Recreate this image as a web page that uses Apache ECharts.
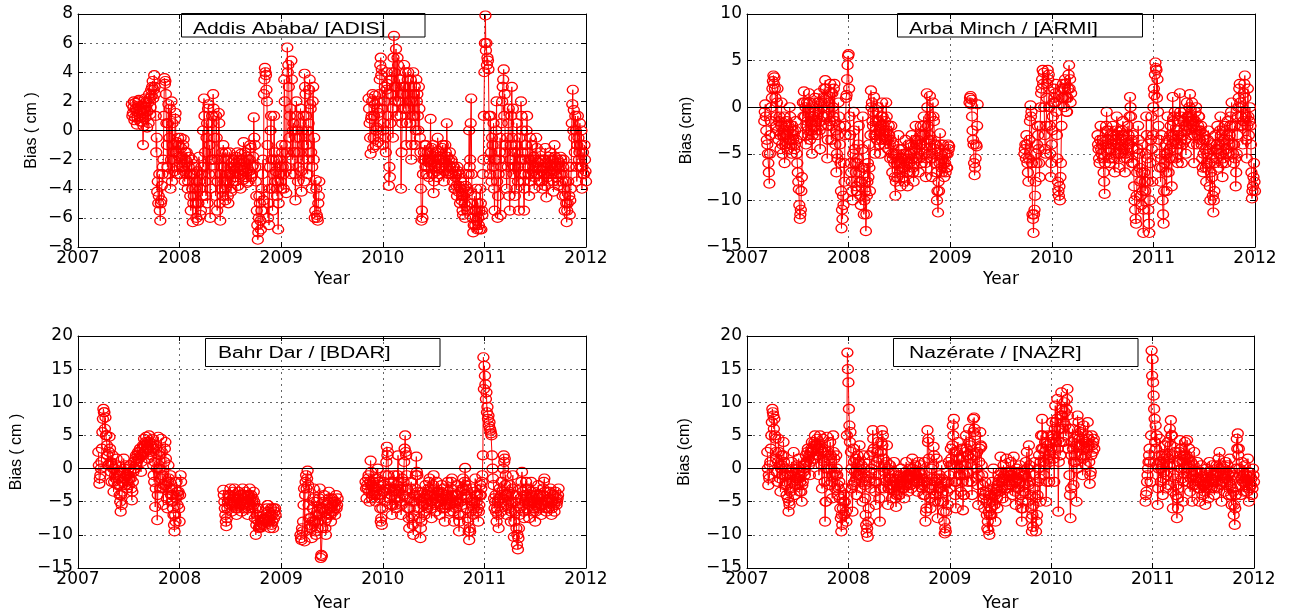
<!DOCTYPE html>
<html><head><meta charset="utf-8">
<script src="https://cdn.jsdelivr.net/npm/echarts/dist/echarts.min.js"></script>
<style>html,body{margin:0;padding:0;background:#fff}#c{width:1298px;height:611px}</style>
</head><body><div id="c"></div>
<script>
// Each segment is sampled every STEP years; the "...b" arrays hold the samples
// taken half a step later (start + STEP/2 + i*STEP).
const STEP = 0.01;
const xTicks = [2007, 2008, 2009, 2010, 2011, 2012];

// ---- Addis Ababa [ADIS] ----
const adisStarts = [2007.53, 2009.86];
const adisBias1 = [
 1.8,1.2,2.0,0.9,1.5,0.4,1.7,2.1,1.0,1.3, 0.6,-1.0,1.4,2.2,1.6,0.2,1.9,2.5,1.1,2.8,
 3.0,2.2,3.8,2.5,-1.5,-4.2,-5.0,-3.0,-6.2,-4.8, -3.0,-2.0,3.6,3.4,0.5,-2.5,1.8,-0.5,-4.0,2.0,
 0.5,-1.5,-2.8,1.2,-0.8,-3.0,-1.0,-2.2,-0.5,-1.8, -2.5,-0.6,-3.5,-2.0,-1.5,-4.0,-2.5,-3.0,-5.5,-2.0,
 -6.3,-4.5,-2.5,-5.0,-3.5,-6.2,-1.8,-4.0,-5.5,-3.0, 0.0,2.2,-1.5,-4.5,0.5,1.5,-3.0,-6.0,-2.0,1.0,
 2.5,-0.5,-3.0,1.0,-5.5,-2.0,0.5,-6.2,-4.0,-1.5, -1.0,-3.5,-4.8,-2.0,-3.0,-5.0,-1.5,-2.5,-4.0,-3.0,
 -2.0,-2.8,-3.5,-2.2,-1.5,-3.0,-2.5,-4.0,-2.0,-2.8, -0.8,-2.5,-3.2,-1.8,-2.6,-3.5,-2.0,-1.2,-3.0,-2.4,
 0.9,-1.0,-3.5,-5.5,-7.5,-6.0,-5.0,-6.8,-4.0,-2.0, 2.5,4.3,3.8,2.0,-6.0,-6.5,-2.5,1.0,-4.0,-3.0,
 1.0,-3.5,-2.0,-4.5,-6.8,-3.0,-2.5,-4.0,-1.5,-3.0, 3.5,-1.0,-4.3,5.7,4.5,-0.5,1.5,4.8,-2.0,0.5,
 -1.5,-4.8,2.0,0.0,-2.5,-0.5,1.5,-4.2,-2.0,1.0, 3.9,2.5,-1.0,-3.0,0.5,3.5,1.5,-4.0,2.0,-2.0,
 -6.0,-3.4,-5.8,-6.2,-4.5];
const adisBias1b = [
 1.0,1.6,0.7,1.9,1.3,0.9,2.0,1.4,0.6,1.7, 1.2,0.3,1.8,0.9,2.0,1.3,0.5,2.2,1.6,2.4,
 3.4,2.8,3.0,1.0,-0.5,-3.5,-4.5,-5.5,-5.0,-3.8, -2.5,1.0,3.2,2.5,-1.0,0.5,-3.0,1.5,-2.0,-3.5,
 -1.0,-2.0,0.8,-1.5,-2.5,-0.5,-1.8,-3.0,-1.2,-2.5, -1.0,-2.8,-1.5,-3.0,-2.2,-3.5,-1.8,-4.5,-3.0,-4.0,
 -5.0,-3.0,-4.0,-6.0,-2.8,-5.0,-3.5,-5.8,-2.5,-4.5, -2.5,1.0,-3.5,-0.5,-5.0,1.8,-1.0,-4.0,0.5,-2.0,
 1.5,-2.0,-4.5,-0.5,-3.5,1.2,-5.0,-3.0,-2.5,-4.5, -2.5,-4.0,-1.5,-3.5,-4.5,-2.0,-3.0,-4.2,-2.2,-3.5,
 -2.5,-3.2,-1.8,-2.6,-3.8,-2.0,-3.0,-1.6,-2.7,-3.4, -2.2,-1.5,-2.9,-3.6,-2.0,-2.8,-1.0,-3.2,-2.5,-1.8,
 -0.5,-2.5,-4.5,-6.5,-7.0,-4.5,-6.2,-5.5,-3.0,-4.8, 3.5,4.0,2.8,-1.0,-5.0,-4.0,0.0,-2.0,-5.5,-2.0,
 -1.5,-2.8,-4.0,-3.5,-5.0,-2.0,-3.5,-1.0,-2.5,-4.0, 2.0,-2.5,-1.5,4.0,3.0,1.0,-3.0,3.5,0.0,-1.5,
 -3.0,-0.5,1.0,-3.5,-1.5,0.5,-2.8,0.0,-1.0,-3.5, 3.0,1.0,0.0,-2.0,2.8,1.8,-1.5,-2.5,3.0,-0.5,
 -5.5,-4.0,-6.0,-5.0,-3.5];
const adisBias2 = [
 2.2,0.5,-1.6,1.0,2.5,-0.5,1.8,-1.0,0.2,2.0, 1.2,3.5,5.0,4.2,-1.0,0.5,3.0,-1.5,4.0,2.5,
 -3.8,-3.2,2.5,4.0,-0.5,6.5,3.0,5.6,1.0,4.5, 2.0,3.5,-4.0,0.5,3.0,4.5,1.5,-1.0,2.5,4.0,
 3.0,0.5,-2.0,2.0,4.0,1.0,-1.0,3.5,2.5,0.0, 1.5,-1.5,-6.2,-6.0,-2.0,-1.0,-2.5,-3.0,-1.5,-2.2,
 -2.0,0.8,-1.2,-3.0,-4.3,-2.5,-1.5,-2.8,-0.5,-2.0, -3.0,-1.8,-2.5,-1.0,-3.5,-2.2,-1.5,0.5,-2.8,-2.0,
 -1.5,-3.0,-2.2,-3.5,-2.5,-4.0,-3.0,-4.5,-2.8,-3.8, -5.0,-3.5,-4.5,-5.8,-4.0,-6.0,-3.0,-5.5,-4.2,0.0,
 -2.0,2.2,-5.0,-7.0,-5.5,-6.5,-4.0,-6.8,-6.0,-5.5, -4.0,-6.8,-5.8,-2.0,4.0,7.9,6.0,5.0,4.2,-2.0,
 1.0,-3.5,-1.0,0.5,-5.5,-2.0,2.0,-6.0,-3.0,-1.5, -5.8,0.5,3.0,4.2,2.5,-1.0,-4.0,-2.5,1.5,-5.5,
 -1.0,3.0,1.5,-2.5,-4.5,-1.0,0.5,-3.5,-5.5,-2.0, 2.0,0.0,-2.0,-5.5,-3.0,-1.0,1.0,-2.5,-4.5,-0.5,
 -3.0,-1.0,-2.5,-4.0,-2.0,-0.5,-3.0,-2.2,-3.5,-1.5, -2.8,-4.0,-2.0,-3.0,-1.2,-4.6,-2.5,-3.5,-2.0,-1.5,
 -3.0,-2.0,-4.2,-1.0,-2.5,-3.2,-2.0,-3.8,-2.5,-1.8, -3.0,-4.5,-2.0,-5.5,-3.5,-6.3,-5.0,-2.5,-5.8,-4.0,
 0.5,2.8,1.4,-1.5,0.0,-3.5,1.0,-2.0,0.5,-1.0, -4.0,-1.5,-3.0,-2.0,-3.5];
const adisBias2b = [
 1.5,-0.5,0.8,2.0,-1.2,1.0,2.4,0.0,1.5,-0.8, 2.5,4.5,3.8,1.5,0.0,2.0,-0.5,2.8,3.2,1.0,
 -2.5,0.5,3.5,1.5,5.0,4.0,2.0,3.0,5.0,2.0, 3.5,1.0,-1.5,2.5,1.5,3.0,4.0,0.5,3.5,1.5,
 2.0,3.5,-1.0,1.0,2.5,3.0,0.0,2.0,1.0,3.0, -0.5,-4.0,-5.5,-3.0,-1.5,-2.0,-1.0,-2.5,-2.0,-3.2,
 -1.5,-2.2,-2.0,-1.0,-3.5,-1.8,-2.3,-3.2,-1.4,-2.6, -2.0,-2.5,-1.2,-2.0,-2.8,-1.0,-2.5,-1.8,-3.0,-2.4,
 -2.5,-2.0,-3.0,-2.5,-4.0,-3.2,-3.8,-2.5,-4.2,-3.0, -4.0,-4.8,-5.5,-4.5,-5.0,-3.8,-5.2,-4.0,-3.0,-2.5,
 0.5,-3.0,-6.0,-6.5,-4.5,-5.5,-6.2,-5.0,-6.5,-6.8, -5.0,-5.5,-3.0,1.0,6.0,5.5,4.5,4.8,1.0,-3.0,
 -1.5,-0.5,-2.5,-4.0,-2.0,0.0,-3.5,-4.5,-2.0,-0.5, -2.5,2.0,3.5,1.0,-1.5,-3.0,-0.5,0.5,-4.5,-2.0,
 1.0,-0.5,-3.0,-1.5,-2.5,-4.0,-1.5,-2.5,-0.5,-3.0, 1.0,-1.5,-3.5,-4.0,-2.0,0.0,-1.5,-3.0,-2.0,-3.5,
 -2.0,-2.8,-1.8,-3.2,-2.5,-1.2,-2.2,-3.0,-2.6,-2.0, -3.5,-2.5,-2.6,-3.8,-2.2,-3.0,-3.2,-1.8,-2.8,-2.4,
 -2.5,-3.5,-2.8,-1.8,-3.0,-2.4,-3.5,-2.2,-3.0,-2.0, -3.5,-2.5,-4.0,-4.5,-5.0,-5.5,-3.5,-4.5,-4.8,-2.5,
 1.8,0.0,-0.5,1.0,-2.5,-1.0,-0.5,-1.5,-2.5,0.0, -2.5,-3.0,-1.0,-2.8];

// ---- Arba Minch [ARMI] ----
const armiStarts = [2007.17, 2009.19, 2009.73, 2010.45];
const armiBias1 = [
 -1.5,0.3,-2.5,-4.0,-6.0,-8.2,-3.0,0.0,2.0,3.4, 3.2,1.0,-2.0,2.0,-3.5,-1.0,-4.5,0.5,-5.0,-2.5,
 -6.0,-3.0,-1.5,-4.5,-2.0,0.0,-3.5,-5.0,-2.5,-3.0, -4.0,-1.5,-5.0,-7.0,-8.8,-12.0,-11.0,-7.5,0.5,1.7,
 -1.0,-4.0,0.5,-2.5,1.5,-3.5,-1.0,-5.0,0.0,-2.0, 1.0,-1.5,-3.0,0.5,1.5,-4.5,-2.0,0.0,-1.0,2.0,
 2.9,1.0,-5.5,-2.0,0.5,2.5,-3.5,1.5,-1.0,2.5, -4.0,-7.0,-5.5,0.5,-2.0,-6.0,-13.0,-12.0,-10.5,-8.0,
 -3.0,1.3,4.5,5.7,-1.0,-6.0,-8.0,-10.0,-0.5,-4.5, -7.0,-9.0,-5.5,-2.0,-8.0,-10.5,-6.5,-1.0,-11.5,-8.0,
 -13.3,-9.5,-6.0,-4.0,-9.0,1.8,0.5,-2.0,1.1,-5.0, -1.5,-3.5,0.0,-2.5,-5.0,-1.0,0.5,-3.0,-4.0,-1.5,
 0.5,-2.5,-4.5,-3.0,-5.5,-2.0,-7.0,-4.0,-6.0,-9.5, -5.0,-7.5,-3.0,-6.0,-8.5,-4.5,-6.5,-5.0,-8.0,-3.5,
 -6.0,-8.5,-4.0,-7.0,-5.0,-3.0,-6.5,-8.0,-4.5,-2.0, -5.5,-3.5,-7.0,-4.0,-2.0,-6.0,-3.0,-1.0,-5.0,-7.5,
 1.5,-2.0,-5.0,1.2,-3.5,-7.5,0.5,-1.5,-6.0,-4.0, -10.0,-11.3,-9.0,-2.8,-5.0,-7.0,-4.0,-7.5,-6.0,-5.0,
 -6.5,-4.0,-4.2];
const armiBias1b = [
 -0.5,-1.0,-3.5,-5.0,-7.0,-5.0,-1.5,1.0,2.8,2.5, 2.0,-1.0,0.5,-2.5,-1.5,-3.0,-2.0,-4.0,-3.0,-1.0,
 -4.0,-2.0,-3.0,-2.5,-3.5,-1.0,-4.0,-2.0,-3.5,-4.5, -2.5,-3.5,-6.0,-8.0,-10.5,-11.5,-9.0,-3.0,-1.0,0.5,
 0.0,-2.0,-1.5,-3.0,0.5,-1.5,-2.5,-3.0,-1.0,0.5, -0.5,-2.5,-1.0,-0.5,-2.5,-1.5,0.5,-1.0,1.0,0.5,
 2.0,-1.0,-3.5,0.0,-1.5,1.5,-2.0,0.0,2.0,-1.5, -2.5,-5.0,-3.0,-1.0,-4.0,-9.0,-11.0,-9.5,-6.0,-2.0,
 1.0,3.0,5.5,2.0,-3.0,-7.0,-9.0,-5.0,-2.5,-6.0, -8.5,-6.0,-4.0,-7.0,-9.5,-8.0,-4.5,-6.5,-10.0,-9.0,
 -11.5,-8.0,-7.5,-6.5,-3.0,0.0,-1.5,-0.5,-3.0,-2.5, -3.0,-0.5,-1.5,-4.0,-2.0,-3.5,-1.0,-2.0,-2.5,-3.5,
 -1.0,-3.5,-2.0,-4.0,-3.5,-5.0,-5.5,-5.0,-7.5,-8.0, -6.0,-5.5,-4.5,-7.0,-6.0,-5.5,-7.5,-6.5,-5.5,-5.0,
 -7.0,-5.5,-6.0,-5.0,-4.0,-5.5,-7.0,-6.0,-3.5,-4.0, -4.0,-5.0,-5.5,-3.0,-4.0,-4.5,-2.0,-3.0,-6.0,-5.5,
 0.0,-3.5,-3.0,-1.0,-5.5,-5.0,-1.0,-4.0,-4.5,-7.0, -9.0,-8.0,-6.0,-4.0,-6.5,-5.5,-6.0,-5.0,-7.0,-6.5,
 -5.0,-4.5];
const armiBias2 = [0.5,1.2,0.8,-2.5,-4.0,-7.3,-5.5,-4.2,0.3];
const armiBias2b = [1.0,0.3,-1.0,-3.5,-6.0,-6.5,-4.0,-2.0];
const armiBias3 = [
 -5.0,-4.0,-3.0,-6.0,-8.0,-3.5,0.2,-0.5,-11.5,-13.5, -11.0,-8.0,-6.0,-2.0,-4.5,-7.5,0.0,2.0,4.0,3.7,
 -3.0,-5.0,1.0,4.0,3.5,-2.0,-7.5,-4.0,-1.0,2.0, 0.5,2.5,-3.0,-8.0,-9.5,-10.0,-6.0,1.0,2.5,0.0,
 3.0,1.0,-0.5,2.0,4.5,3.0,1.5];
const armiBias3b = [
 -4.5,-5.5,-4.0,-7.0,-5.5,-1.5,-1.0,-6.0,-12.0,-11.5, -9.5,-5.0,-4.0,-3.0,-6.0,-2.0,1.5,3.0,2.5,0.0,
 -4.5,-2.0,2.5,3.0,0.0,-5.0,-6.0,-2.5,0.5,1.0, 1.5,-0.5,-5.5,-9.0,-8.5,-7.5,-2.0,2.0,1.0,2.0,
 2.5,-0.5,1.0,3.5,2.0,0.5];
const armiBias4 = [
 -3.0,-4.5,-6.0,-2.0,-5.0,-3.5,-7.0,-9.3,-4.0,-0.5, -2.5,-4.5,-6.0,-3.0,-5.5,-2.0,-4.0,-7.0,-3.5,-1.0,
 -4.0,-6.5,-2.5,-5.0,-3.0,-1.5,-4.5,-7.0,-3.5,-5.5, -2.0,-4.0,1.1,-1.0,-6.0,-3.0,-8.5,-11.0,-12.5,-7.0,
 -2.0,-5.0,-8.0,-10.5,-4.0,-13.5,-7.0,-9.0,-1.0,-5.5, -11.0,-13.5,-6.0,-1.0,-8.0,0.0,1.3,4.8,4.0,3.0,
 -2.0,-5.0,-8.0,-3.0,-10.0,-12.5,-6.0,-4.0,-9.0,-1.0, -7.0,-4.5,-2.0,-8.5,1.1,-3.0,-0.5,-5.5,-2.5,-6.0,
 -4.0,1.5,-1.0,-6.0,-3.0,-0.5,-2.0,-5.0,0.5,-2.5, -1.0,1.4,-3.0,0.5,-2.0,-6.0,-1.5,0.0,-4.0,-2.0,
 -1.0,-3.5,-2.0,-5.5,-7.0,-3.0,-4.5,-8.0,-5.0,-2.5, -6.0,-10.0,-4.0,-7.5,-11.3,-9.0,-3.0,-5.5,-2.0,-6.5,
 -4.0,-1.0,-5.0,-7.5,-3.5,-2.0,-6.0,-4.5,-1.5,-5.0, -3.0,-1.0,0.5,-4.0,-6.0,-2.0,-8.5,-5.0,-1.0,1.0,
 2.5,-2.0,0.0,-4.0,1.5,3.4,-1.0,-5.5,2.0,-3.0, 0.0,-4.0,-9.8,-8.5,-6.0,-9.0];
const armiBias4b = [
 -4.0,-5.5,-3.5,-4.5,-4.0,-5.5,-8.0,-6.0,-2.0,-2.5, -3.5,-5.5,-4.5,-4.0,-3.5,-3.0,-5.5,-5.0,-2.5,-3.0,
 -5.0,-4.5,-4.0,-3.5,-2.5,-3.0,-5.5,-5.0,-4.5,-4.0, -3.0,-1.0,0.0,-3.5,-4.5,-6.0,-10.0,-12.0,-9.5,-4.5,
 -3.5,-6.5,-9.5,-7.0,-9.0,-11.0,-8.0,-5.0,-3.0,-8.0, -12.5,-10.0,-3.5,-4.5,-3.0,2.0,3.5,4.2,1.0,-0.5,
 -3.5,-6.5,-5.5,-6.5,-11.5,-9.0,-5.0,-7.0,-5.0,-3.5, -5.5,-3.0,-5.5,-4.0,-1.5,-1.0,-3.5,-4.0,-4.5,-3.0,
 -1.5,-0.5,-3.5,-4.0,-1.5,-2.5,-3.5,-2.0,-1.0,-1.5, 0.0,-1.5,-1.0,-1.5,-4.0,-3.0,-0.5,-2.5,-3.0,-1.0,
 -2.5,-2.5,-4.0,-6.5,-5.0,-3.5,-6.5,-6.0,-3.5,-4.5, -8.5,-7.0,-5.5,-9.5,-10.0,-6.0,-4.5,-4.0,-4.5,-5.0,
 -2.5,-3.0,-6.0,-5.5,-2.5,-4.0,-5.0,-3.0,-3.5,-4.0, -2.0,-0.5,-2.0,-5.0,-4.0,-5.5,-7.0,-3.0,0.0,2.0,
 0.5,-1.0,-2.0,-1.5,2.5,1.0,-3.5,-2.0,-1.0,-1.5, -2.0,-7.0,-9.0,-7.5,-8.0];

// ---- Bahr Dar [BDAR] ----
const bdarStarts = [2007.20, 2008.43, 2009.19, 2009.83];
const bdarBias1 = [
 2.5,-2.3,-1.0,1.0,5.5,9.0,8.5,7.7,5.0,2.0, 0.5,4.8,1.0,-2.0,2.0,-3.5,0.0,-1.5,1.5,-2.5,
 -1.0,-4.0,-6.5,-5.5,-2.0,1.5,-1.5,0.5,-3.0,-1.0, -2.5,0.5,-1.5,-4.8,-2.0,1.0,0.0,2.0,1.0,2.5,
 1.5,3.0,-0.5,2.0,3.5,4.5,2.5,4.8,3.0,1.5, 5.0,3.5,2.0,4.5,0.5,-2.0,-5.8,3.0,-7.8,4.8,
 2.0,-3.0,4.5,-1.0,-5.5,1.0,4.0,-2.5,-6.0,0.5, -3.0,-1.0,-5.0,-4.0,-7.0,-9.5,-8.0,-2.0,-5.5,-3.5,
 -8.0,-1.0];
const bdarBias1b = [
 0.5,-1.5,0.0,3.0,7.5,8.5,6.0,5.0,3.5,0.5, 2.5,3.0,-0.5,0.5,0.0,-2.0,-1.0,0.5,-0.5,-1.5,
 -2.5,-5.0,-4.0,-3.5,-0.5,0.0,-2.5,-1.0,-2.0,0.0, -1.5,-0.5,-3.0,-3.5,-0.5,0.0,1.5,0.5,2.0,1.5,
 2.5,2.0,1.0,3.0,2.5,3.5,4.0,3.5,4.0,3.0, 4.0,2.5,3.5,3.0,-1.0,1.0,-3.0,0.0,-4.0,2.5,
 0.0,-1.5,2.5,-3.0,-2.5,3.0,1.5,-4.5,-2.0,-1.5, -2.0,-4.0,-3.0,-6.0,-8.5,-7.0,-4.5,-3.5,-4.0,-6.0,
 -4.0,-2.0];
const bdarBias2 = [
 -3.2,-5.0,-7.0,-8.7,-6.0,-4.0,-5.5,-3.0,-6.5,-4.5, -5.0,-3.0,-6.0,-7.0,-4.5,-3.5,-5.5,-4.0,-6.5,-3.0,
 -4.5,-6.0,-3.5,-5.0,-7.0,-4.0,-3.0,-5.5,-6.0,-4.5, -3.5,-7.5,-10.0,-7.0,-6.0,-9.0,-8.6,-8.9,-8.2,-7.6,
 -8.0,-7.5,-7.7,-6.0,-5.5,-7.5,-9.0,-6.0,-7.0,-9.0, -7.5,-6.0];
const bdarBias2b = [
 -4.0,-6.0,-8.0,-7.5,-5.0,-4.5,-4.0,-5.0,-5.5,-3.5, -4.0,-5.5,-4.5,-5.0,-6.0,-4.5,-4.0,-5.0,-5.5,-4.0,
 -5.5,-4.5,-5.0,-4.0,-6.0,-5.5,-4.5,-4.0,-5.0,-5.5, -5.0,-6.0,-8.5,-7.8,-6.0,-8.8,-8.5,-8.0,-8.4,-7.8,
 -7.5,-7.8,-7.0,-5.5,-6.5,-8.0,-7.0,-8.5,-8.0,-6.0, -6.5,-7.0];
const bdarBias3 = [
 -10.0,-10.8,-9.5,-5.5,-11.0,-2.0,-3.0,-0.3,-5.5,-9.0, -7.5,-10.5,-6.0,-3.0,-8.0,-10.0,-5.0,-9.0,-7.0,-3.0,
 -13.5,-13.2,-6.0,-4.0,-8.0,-10.0,-5.5,-7.0,-3.5,-6.0, -8.0,-4.5,-6.5,-5.0,-7.0,-4.0,-5.5];
const bdarBias3b = [
 -10.5,-9.0,-8.0,-3.0,-4.0,-1.0,-1.5,-2.5,-7.5,-8.5, -9.0,-8.0,-4.5,-5.0,-9.5,-7.0,-6.5,-8.0,-4.5,-6.0,
 -13.0,-9.0,-5.0,-6.5,-9.0,-7.5,-6.0,-5.0,-4.5,-7.0, -6.5,-5.5,-5.0,-6.0,-5.0,-6.0,-4.5];
const bdarBias4 = [
 -2.0,-4.5,-3.0,-1.0,-5.0,1.2,-2.5,-4.0,-3.5,-1.5, -5.0,-3.0,0.0,-2.0,-4.5,-8.0,-8.5,-3.5,-2.0,-5.0,
 -1.0,3.3,2.5,-3.0,-5.5,-2.0,-7.0,-3.5,-1.0,-4.5, -6.0,-2.5,2.0,-3.5,-5.0,-7.0,-1.5,-4.0,1.0,5.0,
 2.0,-3.0,-6.0,-9.0,-4.5,-2.0,-7.5,-10.0,-5.0,-3.0, 1.8,-1.0,-6.0,-4.0,-10.5,-8.0,-3.5,-5.5,-7.0,-2.5,
 -4.5,-6.0,-3.0,-1.5,-5.0,-7.5,-3.5,-1.0,-4.0,-6.5, -2.0,-5.0,-3.5,-7.0,-4.5,-2.5,-6.0,-3.0,-8.0,-4.0,
 -5.5,-2.0,-4.5,-6.5,-3.0,-1.5,-5.0,-8.0,-4.0,-6.0, -2.5,-5.0,-9.5,-7.0,-3.5,-5.5,-1.5,-4.0,0.1,-3.0,
 -6.0,-8.0,-10.8,-9.5,-4.5,-3.0,-7.0,-5.0,-1.5,-6.5, -4.0,-8.0,-5.5,-2.5,-3.0,-1.0,16.8,15.5,12.7,11.5,
 9.3,8.0,7.0,5.7,5.0,0.0,-2.5,-6.0,-4.0,-8.0, -5.0,-9.0,-3.0,-6.5,-2.0,-4.5,2.0,1.5,-1.0,-7.0,
 -4.0,-6.0,-2.5,-8.0,-5.0,-1.0,-10.3,-6.5,-4.0,-11.5, -12.2,-9.0,-6.0,-3.0,-0.5,-5.5,-7.5,-4.0,-2.0,-6.0,
 -3.0,-7.5,-5.0,-2.0,-4.5,-6.5,-3.5,-8.0,-5.5,-4.0, -2.5,-6.0,-4.0,-7.0,-5.0,-3.0,-1.5,-5.5,-6.5,-3.5,
 -6.0,-4.5,-3.0,-7.0,-5.0,-4.0,-6.5,-3.5,-5.5,-4.5, -3.0];
const bdarBias4b = [
 -3.0,-2.5,-1.5,-3.5,-2.0,-0.5,-4.5,-2.0,-3.0,-4.0, -3.5,-1.5,-2.5,-4.0,-6.0,-7.5,-6.0,-2.5,-3.5,-3.0,
 1.0,2.0,-1.0,-4.5,-3.0,-4.0,-5.5,-2.0,-3.0,-5.5, -3.5,-1.0,-2.0,-4.5,-3.0,-5.5,-3.0,-2.0,3.0,2.5,
 -1.0,-4.5,-7.5,-6.0,-3.0,-5.0,-8.5,-7.0,-4.0,-1.0, -0.5,-3.5,-4.5,-7.5,-9.0,-5.0,-4.5,-6.5,-4.5,-4.0,
 -5.5,-3.5,-2.0,-4.0,-6.0,-5.0,-2.5,-3.0,-5.5,-4.5, -3.5,-4.0,-5.0,-5.5,-3.5,-4.5,-4.5,-5.5,-6.0,-5.0,
 -4.0,-3.5,-5.5,-4.5,-2.0,-4.0,-6.5,-5.5,-5.0,-4.0, -4.0,-7.0,-8.0,-5.0,-4.5,-3.0,-3.0,-2.0,-2.5,-4.5,
 -7.5,-9.5,-9.0,-6.5,-5.5,-5.0,-6.0,-3.5,-4.0,-5.0, -6.0,-6.5,-4.0,-4.0,-2.0,2.0,12.0,14.0,10.5,8.5,
 7.5,6.5,6.0,5.3,2.0,-1.5,-4.5,-5.0,-6.5,-6.0, -7.0,-4.5,-4.5,-4.0,-3.5,0.0,1.0,-2.5,-4.0,-5.5,
 -5.0,-3.5,-5.5,-6.5,-3.0,-4.0,-8.0,-5.0,-9.0,-10.0, -10.5,-7.0,-4.5,-2.0,-3.5,-6.5,-5.0,-3.0,-4.5,-5.0,
 -5.5,-5.0,-3.5,-4.0,-6.0,-5.0,-6.0,-6.5,-4.0,-5.0, -4.5,-4.0,-5.5,-5.5,-4.0,-2.0,-3.5,-6.0,-5.0,-5.0,
 -5.0,-3.5,-5.0,-6.0,-4.0,-5.5,-5.0,-4.5,-5.0,-4.0];

// ---- Nazerate [NAZR] ----
const nazrStarts = [2007.20, 2010.93];
const nazrBias1 = [
 2.5,-2.5,-1.5,1.0,5.0,9.0,8.0,7.5,4.5,1.5, -2.0,4.5,0.5,-3.5,2.0,-1.0,4.0,-2.5,0.0,-4.0,
 -1.0,-6.5,-5.5,-3.0,1.0,-2.0,2.5,-4.0,-1.5,0.5, -2.5,1.5,-3.5,-1.0,-5.0,-2.0,0.5,-1.0,2.0,1.0,
 3.0,0.5,-1.0,2.5,4.0,1.5,3.5,5.0,2.0,4.5, 3.0,-1.0,5.0,2.5,-3.0,4.5,1.0,-8.0,-5.0,4.8,
 2.0,-2.5,4.0,0.0,-4.5,5.0,1.5,-3.0,2.0,-1.0, -4.0,-2.0,-6.0,-9.5,-8.5,-5.0,-7.0,-3.0,-8.0,17.5,
 13.0,6.5,5.5,0.0,-6.5,3.0,-2.0,1.5,-4.0,2.0, -1.0,3.5,-3.0,0.5,-5.0,2.0,-2.5,-7.0,-9.7,-10.3,
 -6.0,2.0,-3.0,0.0,5.8,3.0,-2.0,-5.5,1.0,4.0, -1.0,-8.0,2.5,5.8,5.0,-3.0,0.5,-2.0,3.5,-5.5,
 -3.0,0.5,-1.5,-4.5,-2.0,1.0,-3.5,-5.8,-2.5,-1.0, -4.0,-2.0,0.0,-3.0,-1.5,-4.5,-2.5,1.0,-1.0,-3.5,
 0.0,-1.5,-3.0,1.5,-0.5,-2.0,0.5,-1.0,-3.5,1.0, -2.0,0.5,-1.0,-3.0,-4.0,1.0,-8.0,-6.0,5.8,4.5,
 -3.0,-6.0,0.0,-2.5,3.3,-5.0,-4.0,1.5,-7.5,-3.0, -1.0,-5.0,0.5,-3.5,-6.5,-9.8,-9.5,-2.0,-5.5,1.0,
 -3.0,3.0,0.5,6.5,7.5,-2.0,-6.0,2.5,4.0,-1.0, 1.5,-3.5,3.0,-6.3,-4.0,0.5,5.0,2.0,-2.0,6.0,
 3.5,0.5,-4.0,7.5,7.7,5.0,-1.5,2.5,-5.5,1.0, 5.5,3.3,-1.0,-3.5,-6.0,-2.0,-5.0,-9.0,-9.3,-10.0,
 -4.0,-7.0,-2.0,0.0,-5.5,-8.0,-3.0,-6.0,-1.0,-3.5, 1.8,-2.0,-4.5,0.5,-1.5,-5.0,1.5,-3.0,-0.5,-2.5,
 1.0,-1.0,-4.0,1.8,-2.0,-5.5,0.0,-3.0,-1.5,0.5, -4.0,-8.0,-6.0,-1.0,-3.5,1.0,2.5,-5.0,3.5,-2.0,
 -6.0,-9.5,-8.8,-3.0,1.0,-9.5,-7.0,-2.0,2.0,-5.0, 5.0,7.5,3.0,-1.0,4.0,-5.0,1.5,5.0,-2.0,2.5,
 3.0,7.0,5.0,-2.0,9.5,4.0,10.5,-6.5,6.0,2.0, 11.5,8.0,4.0,10.0,6.5,9.0,12.0,3.0,-1.0,-7.5,
 2.0,6.0,-2.5,4.5,1.0,-5.0,8.0,7.0,3.5,5.5, 2.0,-1.0,6.5,4.0,0.5,3.0,7.0,4.5,-2.3,-0.5,
 5.0,2.5,4.5];
const nazrBias1b = [
 0.0,-1.0,0.5,3.0,7.0,8.5,6.0,5.0,2.5,-0.5, 1.0,2.5,-1.5,0.0,0.5,2.0,1.0,-1.0,-2.0,-2.5,
 -4.5,-5.0,-3.5,-1.0,-0.5,0.0,-1.0,-2.5,0.0,-1.5, -0.5,-1.5,-2.0,-3.5,-2.5,-0.5,0.0,0.5,1.0,2.5,
 1.5,2.0,1.0,3.0,2.5,3.0,4.0,3.5,3.5,3.0, 2.0,3.5,3.0,0.5,1.5,2.5,-2.0,-5.0,0.0,2.5,
 0.0,1.5,2.0,-2.0,-1.0,2.5,-0.5,-1.0,0.0,-2.5, -3.0,-4.5,-7.5,-7.0,-6.0,-4.0,-5.0,-6.5,5.0,15.0,
 9.0,4.0,2.5,-3.0,-2.5,1.0,-0.5,-1.5,-1.0,0.5, 1.0,0.0,-1.0,-2.0,-1.5,0.0,-4.5,-8.5,-9.0,-8.0,
 -2.0,-1.5,-0.5,2.5,4.5,0.5,-3.5,-2.0,2.5,1.5, -4.5,-3.0,4.0,3.5,1.5,-0.5,-1.5,1.0,0.0,-3.0,
 -1.5,-2.5,-3.0,-2.5,-0.5,-1.5,-4.5,-4.0,-1.5,-3.0, -2.5,-1.0,-2.0,-1.5,-3.0,-2.5,-0.5,-1.5,-2.5,-1.5,
 -1.0,-2.5,-1.0,0.0,-1.5,-0.5,-1.0,-2.0,-1.5,-0.5, -0.5,-1.5,-2.5,-1.5,-2.0,-4.0,-6.5,-2.0,4.0,1.5,
 -4.5,-3.0,-1.5,0.5,2.0,-2.0,-1.5,-3.5,-5.0,-1.5, -3.0,-2.0,-1.5,-5.0,-8.0,-9.0,-6.5,-3.5,-2.0,-1.0,
 0.5,1.5,3.5,5.0,2.5,-4.0,-2.0,0.5,1.5,0.0, -1.0,0.5,-2.0,-4.0,-1.0,2.5,3.0,-0.5,2.0,4.0,
 1.5,-2.0,2.0,5.5,6.0,2.0,0.0,-2.5,-1.0,3.0, 3.5,0.5,-2.5,-4.5,-4.0,-3.5,-7.0,-8.0,-6.5,-7.0,
 -6.0,-4.5,-5.0,-3.0,-4.0,-3.5,-4.5,-2.5,-2.0,-1.5, -0.5,-3.0,-1.5,-1.0,-3.0,-2.5,-0.5,-1.0,-2.0,-1.0,
 -0.5,-2.5,-1.5,-0.5,-3.5,-2.0,-1.5,-1.0,-0.5,-2.0, -6.0,-5.0,-3.5,-2.5,-1.0,-1.5,0.0,-2.5,0.5,-4.0,
 -7.5,-7.0,-5.5,-1.0,-4.5,-8.0,-4.0,0.0,-1.5,1.0, 3.0,5.0,1.0,2.5,0.5,-2.0,3.5,2.0,1.0,4.0,
 5.0,4.5,1.5,6.0,7.0,7.5,3.0,1.0,4.0,8.0, 9.0,6.0,7.0,8.5,5.0,10.5,8.0,6.0,-4.0,-3.0,
 4.0,3.0,1.0,2.0,3.5,0.0,5.0,4.5,6.0,3.5, 4.5,1.5,3.0,2.0,4.0,5.0,3.5,1.0,-1.0,2.0,
 3.5,4.0,3.0];
const nazrBias2 = [
 -5.0,-3.5,-1.0,1.0,3.0,-2.0,17.8,16.5,11.0,7.5, 6.5,5.0,-5.5,0.0,4.5,-2.0,2.0,-4.0,1.5,3.5,
 -3.0,0.5,4.0,-2.5,6.0,7.3,5.0,-6.0,-1.0,2.5, -4.0,-7.5,-6.0,1.0,4.3,3.0,-1.5,-5.0,2.0,4.0,
 0.5,4.3,-2.0,3.0,-3.5,1.0,-5.0,-1.0,2.5,-2.5, -1.5,1.0,-3.0,-5.0,-2.0,0.5,-4.0,-1.0,-3.5,-5.5,
 0.0,-2.5,-4.5,1.0,-1.5,-3.0,0.5,-2.0,-4.0,-1.0, 0.5,-3.0,1.5,2.5,-1.0,-5.0,-2.0,0.0,-3.5,1.0,
 -1.5,0.5,-4.0,1.5,-2.5,-5.5,-1.0,-7.0,-8.5,-4.0, 4.5,5.3,3.0,-1.0,-4.0,1.0,-2.0,-3.5,0.5,-2.5,
 -3.5,1.5,-5.0,-1.0,-2.5,-4.0,0.0,-2.0];
const nazrBias2b = [
 -4.0,-2.0,0.0,2.0,1.0,5.0,14.0,13.0,9.0,4.0, 3.0,0.5,-3.0,2.0,1.0,0.0,0.5,-1.5,-0.5,2.0,
 -1.0,2.0,1.5,0.5,3.5,5.0,2.0,-3.5,0.5,-1.5, -2.5,-4.5,-3.0,2.5,2.0,0.0,1.0,-2.0,0.0,1.5,
 2.0,1.5,0.0,0.5,-1.5,-0.5,-2.5,0.5,-0.5,-1.5, -0.5,-2.0,-1.5,-3.0,-0.5,-1.5,-2.5,-2.0,-2.5,-3.0,
 -1.5,-1.0,-2.0,-0.5,-2.5,-1.5,-1.0,-3.0,-2.0,-0.5, -1.0,-0.5,0.0,0.5,-2.5,-2.0,-1.0,-1.5,-1.0,-0.5,
 -2.5,-1.0,-2.0,-0.5,-4.0,-3.0,-3.5,-5.5,-6.0,0.0, 3.0,2.0,0.0,-2.5,-1.5,-0.5,-1.0,-2.0,-1.5,-1.0,
 -2.0,-0.5,-3.0,-2.5,-1.5,-3.0,-1.0];

const panels = [
  {title:'Addis Ababa/ [ADIS]', starts:adisStarts, segs:[[adisBias1, adisBias1b], [adisBias2, adisBias2b]],
   ymin:-8, ymax:8, yint:2, grid:{left:78, top:14, width:508, height:233},
   yName:'Bias ( cm )', yGap:38, xGap:24, box:[181.5,13.5,243.5,23.5], txt:[193,29.5]},
  {title:'Arba Minch / [ARMI]', starts:armiStarts,
   segs:[[armiBias1, armiBias1b], [armiBias2, armiBias2b], [armiBias3, armiBias3b], [armiBias4, armiBias4b]],
   ymin:-15, ymax:10, yint:5, grid:{left:747, top:14, width:508, height:233},
   yName:'Bias (cm)', yGap:52, xGap:24, box:[897.5,13.5,245,23.5], txt:[909,29.5]},
  {title:'Bahr Dar / [BDAR]', starts:bdarStarts,
   segs:[[bdarBias1, bdarBias1b], [bdarBias2, bdarBias2b], [bdarBias3, bdarBias3b], [bdarBias4, bdarBias4b]],
   ymin:-15, ymax:20, yint:5, grid:{left:78, top:336, width:508, height:232},
   yName:'Bias ( cm )', yGap:53, xGap:27, box:[205.5,338.5,234.5,28], txt:[218,354]},
  {title:'Naz\u00e9rate / [NAZR]', starts:nazrStarts, segs:[[nazrBias1, nazrBias1b], [nazrBias2, nazrBias2b]],
   ymin:-15, ymax:20, yint:5, grid:{left:747, top:336, width:507, height:232},
   yName:'Bias (cm)', yGap:54, xGap:27, box:[893.5,338.5,244.5,28], txt:[909,354]}
];

const TICK_FONT = 'DejaVu Sans';
const grids = [], xAxes = [], yAxes = [], series = [], graphics = [];
const fmtY = v => (v < 0 ? '\u2212' + Math.abs(v) : String(v));
const r3 = v => Math.round(v * 10000) / 10000;

panels.forEach((p, k) => {
  grids.push(Object.assign({show:false, containLabel:false, outerBoundsMode:'none'}, p.grid));
  const common = {type:'value', gridIndex:k, min:xTicks[0], max:xTicks[xTicks.length-1], interval:1};
  xAxes.push(Object.assign({}, common, {
    position:'bottom',
    axisLine:{show:true, onZero:false, lineStyle:{color:'#000', width:1}},
    axisTick:{show:true, inside:true, length:5, lineStyle:{color:'#000'}},
    axisLabel:{show:true, color:'#000', fontFamily:TICK_FONT, fontSize:17, margin:3, formatter:v=>String(v)},
    splitLine:{show:true, lineStyle:{color:'#666', width:1, type:[2,4]}},
    name:'Year', nameLocation:'middle', nameGap:p.xGap,
    nameTextStyle:{color:'#000', fontFamily:TICK_FONT, fontSize:17}
  }));
  xAxes.push(Object.assign({}, common, {
    position:'top',
    axisLine:{show:true, onZero:false, lineStyle:{color:'#000', width:1}},
    axisTick:{show:true, inside:true, length:5, lineStyle:{color:'#000'}},
    axisLabel:{show:false}, splitLine:{show:false}
  }));
  const ycommon = {type:'value', gridIndex:k, min:p.ymin, max:p.ymax, interval:p.yint};
  yAxes.push(Object.assign({}, ycommon, {
    position:'left',
    axisLine:{show:true, onZero:false, lineStyle:{color:'#000', width:1}},
    axisTick:{show:true, inside:true, length:5, lineStyle:{color:'#000'}},
    axisLabel:{show:true, color:'#000', fontFamily:TICK_FONT, fontSize:17, margin:5, formatter:fmtY},
    splitLine:{show:true, lineStyle:{color:'#666', width:1, type:[2,4]}},
    name:p.yName, nameLocation:'middle', nameGap:p.yGap, nameRotate:90,
    nameTextStyle:{color:'#000', fontFamily:'Liberation Sans', fontSize:16}
  }));
  yAxes.push(Object.assign({}, ycommon, {
    position:'right',
    axisLine:{show:true, onZero:false, lineStyle:{color:'#000', width:1}},
    axisTick:{show:true, inside:true, length:5, lineStyle:{color:'#000'}},
    axisLabel:{show:false}, splitLine:{show:false}
  }));

  p.segs.forEach((pair, s) => {
    const start = p.starts[s];
    const a = pair[0], b = pair[1];
    const data = [];
    for (let i = 0; i < a.length; i++) {
      data.push([r3(start + i * STEP), a[i]]);
      if (i < b.length) data.push([r3(start + STEP / 2 + i * STEP), b[i]]);
    }
    const ser = {
      type:'line', xAxisIndex:2*k, yAxisIndex:2*k, data:data,
      symbol:'circle', symbolSize:[11, 9], showSymbol:true, showAllSymbol:true,
      itemStyle:{color:'rgba(255,0,0,0)', borderColor:'#ff0000', borderWidth:1.25},
      lineStyle:{color:'#ff0000', width:1},
      emphasis:{disabled:true}, silent:true, clip:true, z:3, large:false, progressive:0
    };
    if (s === 0) {
      ser.markLine = {silent:true, symbol:'none', label:{show:false}, z:5,
        lineStyle:{color:'#000', type:'solid', width:1}, data:[{yAxis:0}], animation:false};
    }
    series.push(ser);
  });

  graphics.push({type:'rect', z:1, silent:true,
    shape:{x:p.box[0], y:p.box[1], width:p.box[2], height:p.box[3]},
    style:{fill:'none', stroke:'#000', lineWidth:1}});
  graphics.push({type:'text', z:1, silent:true, x:p.txt[0], y:p.txt[1], scaleX:1.32, scaleY:1,
    style:{text:p.title, font:'16px "Liberation Sans"', fill:'#000', textAlign:'left', textVerticalAlign:'middle', verticalAlign:'middle'}});
});

const chart = echarts.init(document.getElementById('c'), null, {renderer:'canvas'});
chart.setOption({
  animation:false, backgroundColor:'#fff',
  grid:grids, xAxis:xAxes, yAxis:yAxes, series:series, graphic:graphics
});
</script></body></html>
